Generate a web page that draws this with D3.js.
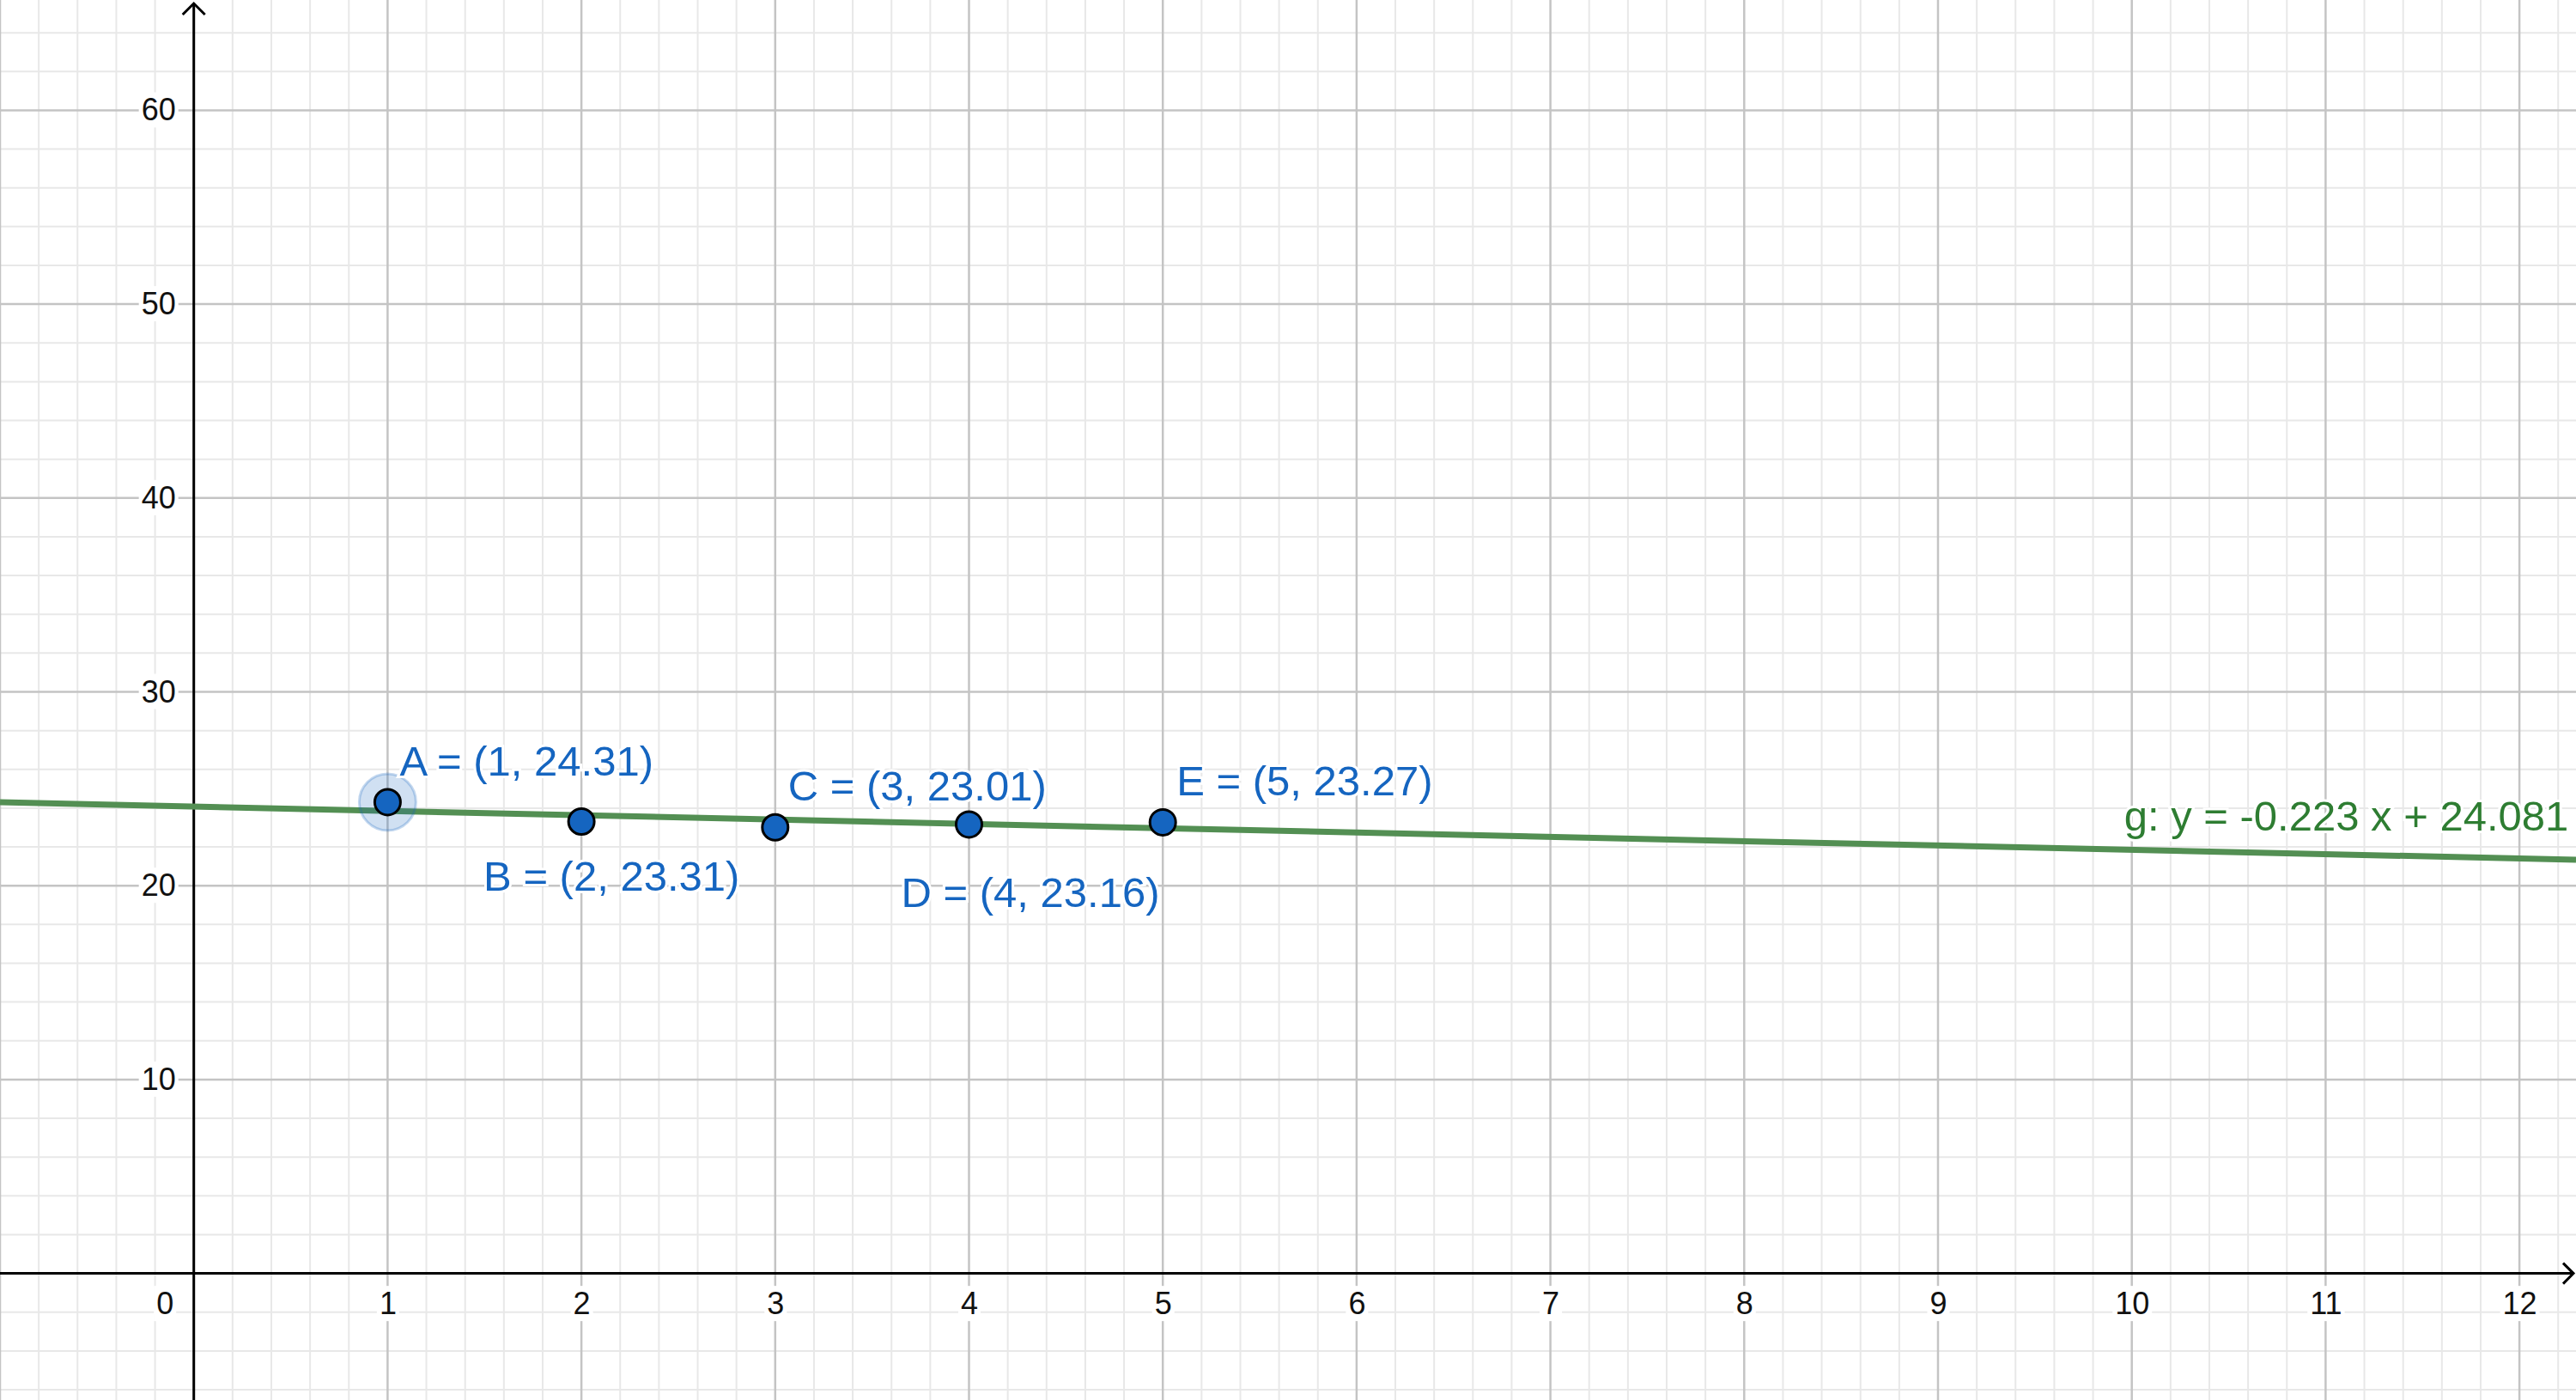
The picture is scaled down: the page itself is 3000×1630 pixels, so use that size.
<!DOCTYPE html>
<html>
<head>
<meta charset="utf-8">
<script src="https://cdn.jsdelivr.net/npm/d3@7"></script>
<style>
  body { margin: 0; background: #fff; }
  svg { display: block; }
  text { font-family: "Liberation Sans", Arial, sans-serif; }
</style>
</head>
<body>
<div class="graph"></div>
<script>
// les données
const pointNames = ["A", "B", "C", "D", "E"];
const xValues = [1, 2, 3, 4, 5];
const yValues = [24.31, 23.31, 23.01, 23.16, 23.27];
// droite de régression g
const slope = -0.223;
const intercept = 24.081;
const lineLabel = "g: y = -0.223 x + 24.081";
// graduations
const xTicks = [0, 1, 2, 3, 4, 5, 6, 7, 8, 9, 10, 11, 12];
const yTicks = [10, 20, 30, 40, 50, 60];

// décalage des étiquettes des points (en px)
const labelOffsets = [[14, -31], [-114, 80], [15, -31], [-79, 96], [16, -31]];

const width = 3000, height = 1630;
const blue = "#1565c0";

const svg = d3.select(".graph")
  .append("svg")
  .attr("width", width)
  .attr("height", height);

// échelles : 225.7 px par unité en x, 22.57 px par unité en y
const x = d3.scaleLinear().domain([-1, 12.292]).range([0, width]);
const y = d3.scaleLinear().domain([-6.531, 65.69]).range([height, 0]);

// quadrillage secondaire
const minorX = d3.range(-5, 62).map(i => i / 5).filter(v => Math.abs(v - Math.round(v)) > 1e-6);
const minorY = d3.range(-3, 33).map(i => i * 2).filter(v => v % 10 != 0);

const grid = svg.append("g");
grid.selectAll(".minx").data(minorX).enter().append("line")
  .attr("x1", d => x(d)).attr("x2", d => x(d))
  .attr("y1", 0).attr("y2", height)
  .attr("stroke", "#e8e8e8").attr("stroke-width", 2);
grid.selectAll(".miny").data(minorY).enter().append("line")
  .attr("y1", d => y(d)).attr("y2", d => y(d))
  .attr("x1", 0).attr("x2", width)
  .attr("stroke", "#e8e8e8").attr("stroke-width", 2);

// quadrillage principal
const majorX = d3.range(-1, 13);
const majorY = d3.range(-1, 7).map(i => i * 10).filter(v => v != 0);
grid.selectAll(".majx").data(majorX.filter(v => v != 0)).enter().append("line")
  .attr("x1", d => x(d)).attr("x2", d => x(d))
  .attr("y1", 0).attr("y2", height)
  .attr("stroke", "#c4c4c4").attr("stroke-width", 2.5);
grid.selectAll(".majy").data(majorY).enter().append("line")
  .attr("y1", d => y(d)).attr("y2", d => y(d))
  .attr("x1", 0).attr("x2", width)
  .attr("stroke", "#c4c4c4").attr("stroke-width", 2.5);

// axes
svg.append("line")
  .attr("x1", 0).attr("x2", width - 3)
  .attr("y1", y(0)).attr("y2", y(0))
  .attr("stroke", "#000").attr("stroke-width", 3);
svg.append("polyline")
  .attr("points", `${width - 15},${y(0) - 12} ${width - 3},${y(0)} ${width - 15},${y(0) + 12}`)
  .attr("fill", "none").attr("stroke", "#000").attr("stroke-width", 3);
svg.append("line")
  .attr("x1", x(0)).attr("x2", x(0))
  .attr("y1", height).attr("y2", 4)
  .attr("stroke", "#000").attr("stroke-width", 3);
svg.append("polyline")
  .attr("points", `${x(0) - 13},${17} ${x(0)},${4} ${x(0) + 13},${17}`)
  .attr("fill", "none").attr("stroke", "#000").attr("stroke-width", 3);

// étiquettes des axes avec d3.axis
const xAxis = svg.append("g")
  .attr("transform", `translate(0,${y(0)})`)
  .call(d3.axisBottom(x).tickValues(xTicks).tickSize(0).tickPadding(22).tickFormat(d3.format("d")));
const yAxis = svg.append("g")
  .attr("transform", `translate(${x(0)},0)`)
  .call(d3.axisLeft(y).tickValues(yTicks).tickSize(0).tickPadding(21).tickFormat(d3.format("d")));

[xAxis, yAxis].forEach(ax => {
  ax.select(".domain").remove();
  ax.selectAll("text")
    .attr("font-size", 36)
    .attr("fill", "#111")
    .style("font-family", '"Liberation Sans", Arial, sans-serif');
});
// le 0 est à gauche de l'axe vertical
xAxis.selectAll(".tick").filter(d => d == 0).select("text")
  .attr("text-anchor", "end").attr("x", -24);

// fond blanc derrière les étiquettes
svg.selectAll(".tick").each(function () {
  const t = d3.select(this).select("text");
  const b = t.node().getBBox();
  d3.select(this).insert("rect", "text")
    .attr("x", b.x - 3).attr("y", b.y)
    .attr("width", b.width + 6).attr("height", b.height)
    .attr("fill", "#fff");
});

// droite g
const xs = x.domain();
svg.append("line")
  .attr("x1", x(xs[0])).attr("y1", y(slope * xs[0] + intercept))
  .attr("x2", x(xs[1])).attr("y2", y(slope * xs[1] + intercept))
  .attr("stroke", "#538f53").attr("stroke-width", 7);

svg.append("text")
  .attr("x", x(10) - 9)
  .attr("y", y(slope * 10 + intercept) - 22)
  .attr("font-size", 49)
  .attr("fill", "#2e7d32")
  .attr("stroke", "#fff").attr("stroke-width", 6)
  .attr("paint-order", "stroke")
  .text(lineLabel);

// halo autour du point A (sélectionné)
svg.append("circle")
  .attr("cx", x(xValues[0])).attr("cy", y(yValues[0]))
  .attr("r", 33)
  .attr("fill", "rgba(21,101,192,0.2)")
  .attr("stroke", "rgba(21,101,192,0.25)").attr("stroke-width", 3);

// points
svg.selectAll(".pt")
  .data(pointNames)
  .enter()
  .append("circle")
  .attr("cx", (d, i) => x(xValues[i]))
  .attr("cy", (d, i) => y(yValues[i]))
  .attr("r", 15)
  .attr("fill", blue)
  .attr("stroke", "#000").attr("stroke-width", 3);

// étiquettes des points
svg.selectAll(".lbl")
  .data(pointNames)
  .enter()
  .append("text")
  .attr("x", (d, i) => x(xValues[i]) + labelOffsets[i][0])
  .attr("y", (d, i) => y(yValues[i]) + labelOffsets[i][1])
  .attr("font-size", 49)
  .attr("fill", blue)
  .attr("stroke", "#fff").attr("stroke-width", 6)
  .attr("paint-order", "stroke")
  .text((d, i) => d + " = (" + xValues[i] + ", " + yValues[i].toFixed(2) + ")");
</script>
</body>
</html>
